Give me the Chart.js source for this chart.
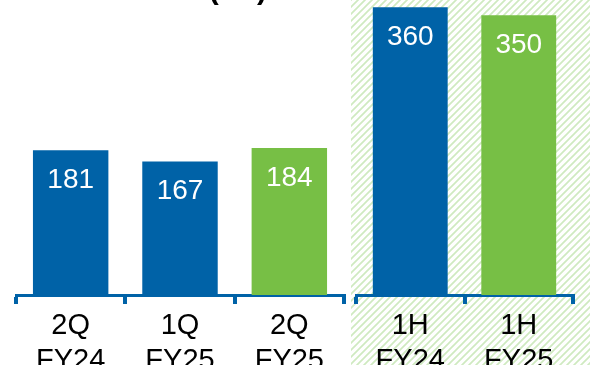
<!DOCTYPE html>
<html>
<head>
<meta charset="utf-8">
<script src="https://cdn.jsdelivr.net/npm/chart.js@4/dist/chart.umd.min.js"></script>
<style>
  html, body { margin: 0; padding: 0; background: #fff; }
  #wrap { position: relative; width: 590px; height: 365px; overflow: hidden; }
  canvas { position: absolute; top: 0; }
  #quarters { left: 0; }
  #halves { left: 351px; }
</style>
</head>
<body>
<div id="wrap">
  <canvas id="quarters" width="350" height="365"></canvas>
  <canvas id="halves" width="239" height="365"></canvas>
</div>
<script>
const quarterLabels = [["2Q", "FY24"], ["1Q", "FY25"], ["2Q", "FY25"]];
const quarterValues = [181, 167, 184];
const halfLabels = [["1H", "FY24"], ["1H", "FY25"]];
const halfValues = [360, 350];

const BLUE = "#0062a7";
const GREEN = "#77bf45";
const FONT = "'Liberation Sans', Arial, sans-serif";
const Y_MAX = 369;

const quarterColors = [BLUE, BLUE, GREEN];
const halfColors = [BLUE, GREEN];

// white number just inside the top of each bar
const valueLabels = {
  id: "valueLabels",
  afterDatasetsDraw(chart) {
    const c = chart.ctx;
    const ds = chart.data.datasets[0];
    c.save();
    c.fillStyle = "#fff";
    c.font = "28px " + FONT;
    c.textAlign = "center";
    c.textBaseline = "middle";
    chart.getDatasetMeta(0).data.forEach((bar, i) => {
      c.fillText(ds.data[i], bar.x, bar.y + 30);
    });
    c.restore();
  }
};

// light green diagonal hatch behind the half-year group
const hatchBg = {
  id: "hatchBg",
  beforeDraw(chart) {
    const tile = document.createElement("canvas");
    tile.width = 7;
    tile.height = 7;
    const t = tile.getContext("2d");
    t.strokeStyle = "#cfeac0";
    t.lineWidth = 1.7;
    t.beginPath();
    t.moveTo(-1, 8); t.lineTo(8, -1);
    t.moveTo(-1, 1); t.lineTo(1, -1);
    t.moveTo(6, 8); t.lineTo(8, 6);
    t.stroke();
    const c = chart.ctx;
    c.save();
    c.fillStyle = c.createPattern(tile, "repeat");
    c.fillRect(0, 0, chart.width, chart.height);
    c.restore();
  }
};

// title above the chart, mostly out of view
const topTitle = {
  id: "topTitle",
  afterDraw(chart) {
    const c = chart.ctx;
    c.save();
    c.fillStyle = "#000";
    c.font = "bold 30px " + FONT;
    c.textAlign = "right";
    c.textBaseline = "alphabetic";
    c.fillText("(¥B)", 267, -1);
    c.restore();
  }
};

function makeOptions(padLeft, padRight) {
  return {
    responsive: false,
    animation: false,
    layout: { padding: { left: padLeft, right: padRight, top: 0, bottom: 0 } },
    plugins: { legend: { display: false }, tooltip: { enabled: false } },
    scales: {
      x: {
        grid: {
          offset: true,
          drawOnChartArea: false,
          drawTicks: true,
          tickLength: 9,
          color: BLUE,
          lineWidth: 4
        },
        border: { color: BLUE, width: 3 },
        ticks: {
          color: "#000",
          padding: 5,
          font: { family: FONT, size: 29, lineHeight: 1.2 }
        },
        afterFit(scale) { scale.height = 70; }
      },
      y: { display: false, min: 0, max: Y_MAX }
    }
  };
}

new Chart(document.getElementById("quarters"), {
  type: "bar",
  data: {
    labels: quarterLabels,
    datasets: [{
      data: quarterValues,
      backgroundColor: quarterColors,
      barPercentage: 0.69,
      categoryPercentage: 1
    }]
  },
  options: makeOptions(16, 6),
  plugins: [valueLabels, topTitle]
});

new Chart(document.getElementById("halves"), {
  type: "bar",
  data: {
    labels: halfLabels,
    datasets: [{
      data: halfValues,
      backgroundColor: halfColors,
      barPercentage: 0.69,
      categoryPercentage: 1
    }]
  },
  options: makeOptions(5, 17),
  plugins: [hatchBg, valueLabels]
});
</script>
</body>
</html>
